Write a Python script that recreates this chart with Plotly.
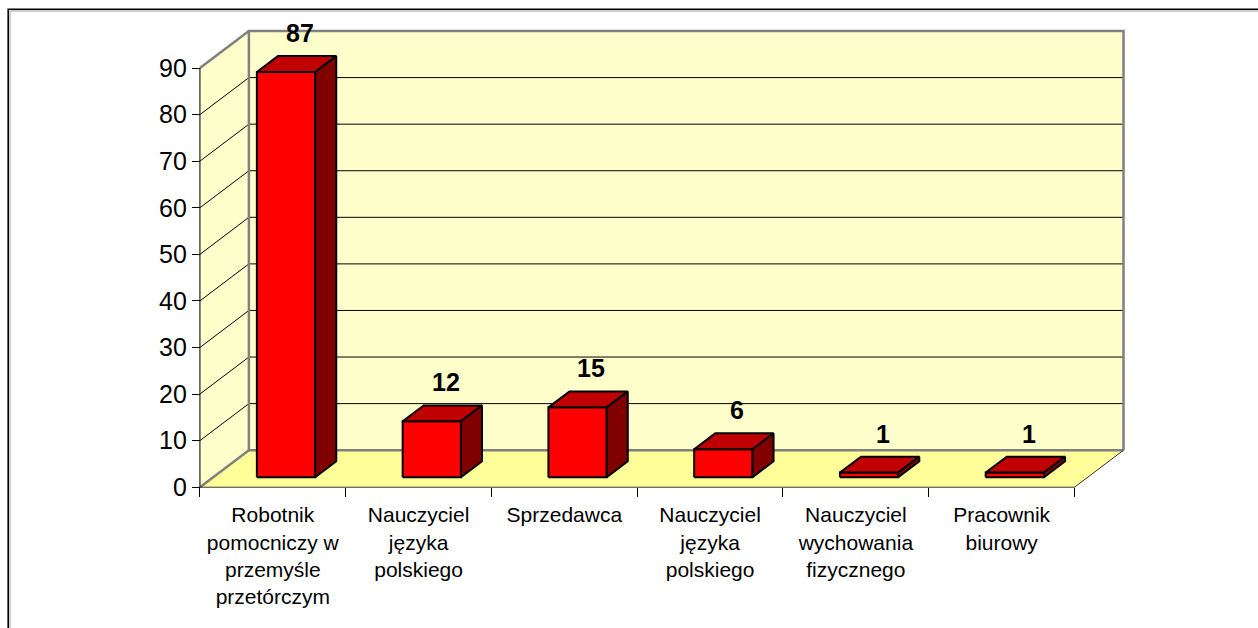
import plotly.graph_objects as go

# ---- data ----
categories = [
    "Robotnik<br>pomocniczy w<br>przemyśle<br>przetórczym",
    "Nauczyciel<br>języka<br>polskiego",
    "Sprzedawca",
    "Nauczyciel<br>języka<br>polskiego",
    "Nauczyciel<br>wychowania<br>fizycznego",
    "Pracownik<br>biurowy",
]
values = [87, 12, 15, 6, 1, 1]
y_ticks = [0, 10, 20, 30, 40, 50, 60, 70, 80, 90]

# ---- oblique 3D projection (depth d in [0, 1]) ----
DX = 0.336      # x shift per unit depth, in category slots
DY = 7.95       # y shift per unit depth, in value units
Y_TOP = 90
N = len(categories)
BAR_W = 0.4
D_FRONT, D_BACK = 0.27, 0.70

WALL = "#FFFFCC"
FLOOR = "#FFFF99"
EDGE = "#808080"
RED_FRONT, RED_TOP, RED_SIDE = "#FF0000", "#C00000", "#800000"


def proj(x, v, d):
    return x + d * DX, v + d * DY


def path(*pts, close=False):
    xs, ys = [], []
    for p in pts:
        px, py = proj(*p)
        xs.append(px)
        ys.append(py)
    if close:
        xs.append(xs[0])
        ys.append(ys[0])
    return xs, ys


def join(segments):
    xs, ys = [], []
    for sx, sy in segments:
        xs += sx + [None]
        ys += sy + [None]
    return xs, ys


fig = go.Figure()


def add_poly(segments, fill, line_color, line_width):
    xs, ys = join(segments)
    fig.add_trace(go.Scatter(
        x=xs, y=ys, mode="lines", fill="toself", fillcolor=fill,
        line=dict(color=line_color, width=line_width),
        hoverinfo="skip", showlegend=False))


def add_lines(segments, color, width):
    xs, ys = join(segments)
    fig.add_trace(go.Scatter(
        x=xs, y=ys, mode="lines", line=dict(color=color, width=width),
        hoverinfo="skip", showlegend=False))


# walls and floor
add_poly([path((0, 0, 1), (N, 0, 1), (N, Y_TOP, 1), (0, Y_TOP, 1), close=True)],
         WALL, "rgba(0,0,0,0)", 0)
add_poly([path((0, 0, 0), (0, 0, 1), (0, Y_TOP, 1), (0, Y_TOP, 0), close=True)],
         WALL, "rgba(0,0,0,0)", 0)
add_poly([path((0, 0, 0), (N, 0, 0), (N, 0, 1), (0, 0, 1), close=True)],
         FLOOR, "rgba(0,0,0,0)", 0)

# gridlines on back and side walls
grid = []
for v in y_ticks[1:-1]:
    grid.append(path((0, v, 1), (N, v, 1)))
    grid.append(path((0, v, 0), (0, v, 1)))
add_lines(grid, "#000000", 1)

# wall edges
add_lines([
    path((0, 0, 1), (0, Y_TOP, 1), (N, Y_TOP, 1), (N, 0, 1)),
    path((0, 0, 1), (N, 0, 1)),
    path((0, Y_TOP, 0), (0, Y_TOP, 1)),
    path((0, 0, 0), (0, 0, 1)),
], EDGE, 2.5)
add_lines([path((0, 0, 0), (N, 0, 0), (N, 0, 1))], "#333333", 1)
add_lines([path((0, 0, 0), (0, Y_TOP, 0))], "#222222", 1.2)

# bars
fronts, tops, sides = [], [], []
for i, v in enumerate(values):
    x0 = i + 0.5 - BAR_W / 2
    x1 = i + 0.5 + BAR_W / 2
    fronts.append(path((x0, 0, D_FRONT), (x1, 0, D_FRONT), (x1, v, D_FRONT),
                       (x0, v, D_FRONT), close=True))
    tops.append(path((x0, v, D_FRONT), (x1, v, D_FRONT), (x1, v, D_BACK),
                     (x0, v, D_BACK), close=True))
    sides.append(path((x1, 0, D_FRONT), (x1, 0, D_BACK), (x1, v, D_BACK),
                      (x1, v, D_FRONT), close=True))
add_poly(fronts, RED_FRONT, "#000000", 2)
add_poly(tops, RED_TOP, "#000000", 2)
add_poly(sides, RED_SIDE, "#000000", 2)

# value labels
for i, v in enumerate(values):
    lx, ly = proj(i + 0.5, v, D_BACK)
    lx = i + 0.5 + 0.55 * DX
    fig.add_annotation(x=lx, y=ly, text=f"<b>{v}</b>", showarrow=False,
                       yanchor="middle", yshift=23,
                       font=dict(family="Liberation Sans", size=25, color="#000000"))

# outer frame
L, T, W, H = 197, 28, 930, 462


def px_x(p):
    return (p - L) / W


def px_y(q):
    return (T + H - q) / H


fig.add_shape(type="rect", xref="paper", yref="paper",
              x0=px_x(8.2), x1=1.3, y0=-0.5, y1=px_y(9.2),
              line=dict(color="#000000", width=1.6))
fig.add_shape(type="rect", xref="paper", yref="paper",
              x0=px_x(10), x1=1.3, y0=-0.5, y1=px_y(11),
              line=dict(color="#A0A0A0", width=1))

X_RANGE = [-0.02, 6.36]
Y_RANGE = [-0.6, 98.6]

fig.update_layout(
    width=1258, height=628,
    margin=dict(l=L, r=1258 - L - W, t=T, b=628 - T - H),
    paper_bgcolor="white", plot_bgcolor="white",
    font=dict(family="Liberation Sans", color="#000000"),
    showlegend=False,
    xaxis=dict(
        range=X_RANGE, showgrid=False, zeroline=False, showline=False,
        anchor="free", position=(0 - Y_RANGE[0]) / (Y_RANGE[1] - Y_RANGE[0]),
        tickmode="array", tickvals=[i + 0.5 for i in range(N)], ticktext=categories,
        ticks="outside", ticklen=9, tickcolor="rgba(0,0,0,0)",
        tickfont=dict(size=21, family="Liberation Sans", color="#000000"),
        minor=dict(tickmode="array", tickvals=list(range(N + 1)), ticks="outside",
                   ticklen=9, tickcolor="#000000", tickwidth=1, showgrid=False),
        fixedrange=True,
    ),
    yaxis=dict(
        range=Y_RANGE, showgrid=False, zeroline=False, showline=False,
        anchor="free", position=(0 - X_RANGE[0]) / (X_RANGE[1] - X_RANGE[0]),
        tickmode="array", tickvals=y_ticks, ticks="outside", ticklen=8,
        tickcolor="#000000", tickwidth=1,
        tickfont=dict(size=25, family="Liberation Sans", color="#000000"),
        fixedrange=True,
    ),
)

fig.write_html("out.html")
